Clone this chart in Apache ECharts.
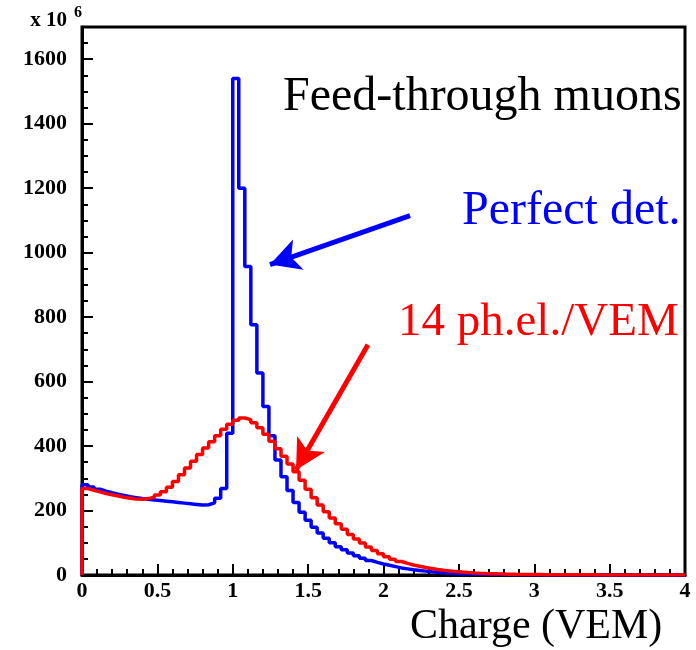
<!DOCTYPE html>
<html>
<head>
<meta charset="utf-8">
<script src="https://cdn.jsdelivr.net/npm/echarts@6/dist/echarts.min.js"></script>
<style>
  html, body { margin: 0; padding: 0; background: #fff; }
  #chart { width: 696px; height: 650px; }
</style>
</head>
<body>
<div id="chart"></div>
<script>
// Charge histograms of feed-through muons, 100 bins of 0.04 VEM from 0 to 4 (counts in units of 10^6)
const binWidth = 0.04;
const chargeMin = 0;
const chargeMax = 4;
const countMax = 1700;

// Perfect detector
const perfectCounts = [
  280, 273, 266, 260, 255, 251, 247, 243, 240, 237,
  235, 233, 231, 229, 227, 225, 223, 221, 219, 217,
  218, 224, 238, 268, 440, 1540, 1200, 957, 776, 627,
  523, 432, 357, 305, 262, 225, 195, 170, 148, 130,
  114, 100, 88, 78, 68, 60, 52, 45, 39, 34,
  30, 26, 22, 19, 16, 14, 12, 10, 8.5, 7,
  6, 5, 4, 3.5, 3, 2.5, 2, 1.7, 1.4, 1.2,
  1, 0.8, 0.7, 0.6, 0.5, 0.4, 0.3, 0.3, 0.2, 0.2,
  0.2, 0.1, 0.1, 0.1, 0.1, 0, 0, 0, 0, 0,
  0, 0, 0, 0, 0, 0, 0, 0, 0, 0
];

// 14 photoelectrons per VEM
const phel14Counts = [
  268, 263, 258, 253, 249, 245, 241, 238, 236, 235,
  237, 241, 248, 258, 272, 290, 311, 332, 353, 374,
  394, 413, 432, 452, 468, 480, 487, 482, 472, 457,
  437, 415, 392, 368, 344, 320, 294, 266, 240, 217,
  196, 177, 159, 142, 126, 112, 99, 87, 76, 66,
  57, 49, 42, 36, 31, 27, 23, 20, 17, 14.5,
  12.5, 10.5, 9, 7.7, 6.6, 5.6, 4.8, 4.1, 3.5, 3,
  2.6, 2.2, 1.9, 1.6, 1.4, 1.2, 1.0, 0.9, 0.8, 0.7,
  0.6, 0.5, 0.5, 0.4, 0.4, 0.3, 0.3, 0.3, 0.2, 0.2,
  0.2, 0.2, 0.1, 0.1, 0.1, 0.1, 0.1, 0.1, 0.1, 0.1
];

// Annotation arrows (tail and tip, in charge / count units)
const perfectArrow = [[2.176, 1115], [1.247, 963]];
const phel14Arrow = [[1.897, 714], [1.420, 326]];

const serifFont = '"Liberation Serif", "Times New Roman", serif';

// Outline of a histogram: rise from zero at the first edge, then one step per bin
function histogramOutline(counts) {
  const pts = [[chargeMin, 0]];
  counts.forEach((c, i) => pts.push([chargeMin + i * binWidth, c]));
  pts.push([chargeMin + counts.length * binWidth, counts[counts.length - 1]]);
  return pts;
}

function arrowMark(arrow, color) {
  return {
    silent: true,
    animation: false,
    symbol: ['none', 'arrow'],
    symbolSize: [24, 30],
    label: { show: false },
    emphasis: { disabled: true },
    lineStyle: { color: color, width: 5, type: 'solid' },
    data: [[{ coord: arrow[0] }, { coord: arrow[1] }]]
  };
}

const chart = echarts.init(document.getElementById('chart'), null, { renderer: 'canvas' });

const tickLine = { color: '#000', width: 2 };

chart.setOption({
  animation: false,
  backgroundColor: '#fff',
  grid: {
    left: 82, right: 11, top: 27, bottom: 75,
    show: true, borderColor: '#000', borderWidth: 3, backgroundColor: 'transparent'
  },
  xAxis: {
    type: 'value',
    min: chargeMin, max: chargeMax, interval: 0.5,
    axisLine: { show: true, onZero: false, lineStyle: { color: '#000', width: 3 } },
    axisTick: { show: true, inside: true, length: 11, lineStyle: tickLine },
    minorTick: { show: true, splitNumber: 5, length: 6, lineStyle: tickLine },
    splitLine: { show: false },
    axisLabel: {
      color: '#000', fontFamily: serifFont, fontWeight: 'bold', fontSize: 22, margin: 5
    }
  },
  yAxis: [
    {
      type: 'value',
      min: 0, max: countMax, interval: 200,
      axisLine: { show: true, onZero: false, lineStyle: { color: '#000', width: 3 } },
      axisTick: { show: true, inside: true, length: 11, lineStyle: tickLine },
      splitLine: { show: false },
      axisLabel: {
        color: '#000', fontFamily: serifFont, fontWeight: 'bold', fontSize: 22, margin: 15,
        formatter: v => (v % 200 === 0 ? String(v) : '')
      }
    },
    {
      // finer ticks every 50
      type: 'value', position: 'left',
      min: 0, max: countMax, interval: 50,
      axisLine: { show: false },
      axisTick: { show: true, inside: true, length: 6, lineStyle: tickLine },
      splitLine: { show: false },
      axisLabel: { show: false }
    }
  ],
  series: [
    {
      name: 'Perfect det.',
      type: 'line', step: 'end', yAxisIndex: 0,
      showSymbol: false, symbol: 'none',
      lineStyle: { color: '#0000ff', width: 3.5 },
      data: histogramOutline(perfectCounts),
      markLine: arrowMark(perfectArrow, '#0000ff'),
      z: 3
    },
    {
      name: '14 ph.el./VEM',
      type: 'line', step: 'end', yAxisIndex: 0,
      showSymbol: false, symbol: 'none',
      lineStyle: { color: '#ff0000', width: 3.5 },
      data: histogramOutline(phel14Counts),
      markLine: arrowMark(phel14Arrow, '#ff0000'),
      z: 4
    }
  ],
  graphic: [
    {
      type: 'text', x: 67, y: 21,
      style: { text: 'x 10', fill: '#000', font: 'bold 21px ' + serifFont, align: 'right', verticalAlign: 'middle' }
    },
    {
      type: 'text', x: 74, y: 13,
      style: { text: '6', fill: '#000', font: 'bold 16px ' + serifFont, align: 'left', verticalAlign: 'middle' }
    },
    {
      type: 'text', x: 283, y: 97,
      style: { text: 'Feed-through muons', fill: '#000', font: '48px ' + serifFont, align: 'left', verticalAlign: 'middle' }
    },
    {
      type: 'text', x: 462, y: 211,
      style: { text: 'Perfect det.', fill: '#0000ff', font: '48px ' + serifFont, align: 'left', verticalAlign: 'middle' }
    },
    {
      type: 'text', x: 398, y: 323,
      style: { text: '14 ph.el./VEM', fill: '#ff0000', font: '47px ' + serifFont, align: 'left', verticalAlign: 'middle' }
    },
    {
      type: 'text', x: 410, y: 627,
      style: { text: 'Charge (VEM)', fill: '#000', font: '42px ' + serifFont, align: 'left', verticalAlign: 'middle' }
    }
  ]
});
</script>
</body>
</html>
